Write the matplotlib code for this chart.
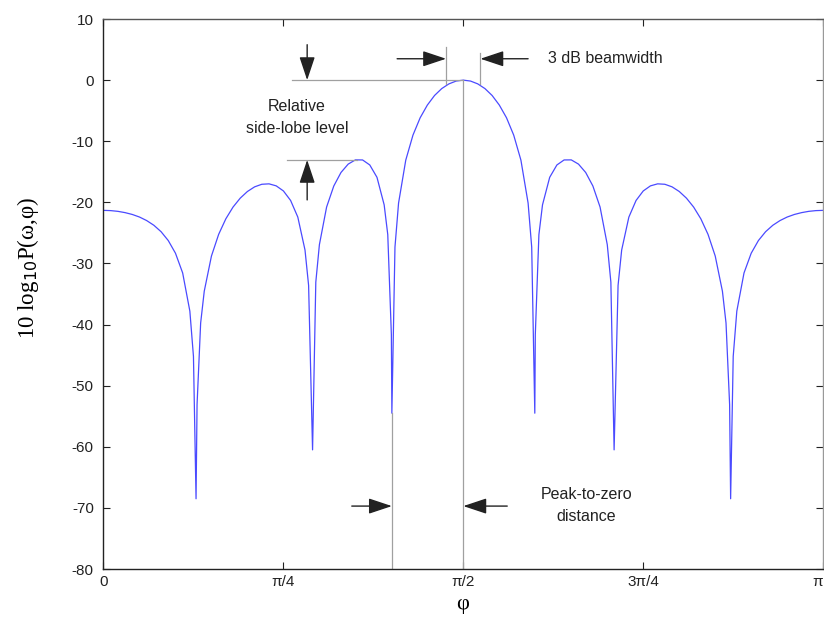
import matplotlib
matplotlib.use("Agg")
import matplotlib.pyplot as plt
import numpy as np

# beam pattern samples, phi in units of pi, level in dB
phi_left = [0.00, 0.01, 0.02, 0.03, 0.04, 0.05, 0.06, 0.07, 0.08, 0.09,
            0.10, 0.11, 0.12, 0.125, 0.1286, 0.13, 0.135, 0.14, 0.15, 0.16,
            0.17, 0.18, 0.19, 0.20, 0.21, 0.22, 0.23, 0.24, 0.25, 0.26,
            0.27, 0.28, 0.285, 0.2905, 0.295, 0.30, 0.31, 0.32, 0.33, 0.34,
            0.35, 0.36, 0.37, 0.38, 0.39, 0.395, 0.40, 0.4007, 0.405, 0.41,
            0.42, 0.43, 0.44, 0.45, 0.46, 0.47, 0.48, 0.49, 0.50]
db_left = [-21.31, -21.35, -21.47, -21.68, -21.98, -22.40, -22.98, -23.75, -24.80, -26.25,
           -28.32, -31.55, -37.80, -45.20, -68.5, -53.09, -39.74, -34.54, -28.78, -25.24,
           -22.69, -20.77, -19.31, -18.22, -17.46, -17.04, -16.97, -17.30, -18.13, -19.69,
           -22.41, -27.80, -33.59, -60.5, -33.06, -26.92, -20.77, -17.32, -15.11, -13.74,
           -13.05, -13.06, -13.88, -15.90, -20.41, -25.28, -41.65, -54.5, -27.33, -20.12,
           -13.09, -9.00, -6.16, -4.08, -2.51, -1.38, -0.61, -0.15, 0.00]

phi_right = [0.51, 0.52, 0.53, 0.54, 0.55, 0.56, 0.57, 0.58, 0.59, 0.595,
             0.5993, 0.60, 0.605, 0.61, 0.62, 0.63, 0.64, 0.65, 0.66, 0.67,
             0.68, 0.69, 0.70, 0.705, 0.7095, 0.715, 0.72, 0.73, 0.74, 0.75,
             0.76, 0.77, 0.78, 0.79, 0.80, 0.81, 0.82, 0.83, 0.84, 0.85,
             0.86, 0.865, 0.87, 0.8714, 0.875, 0.88, 0.89, 0.90, 0.91, 0.92,
             0.93, 0.94, 0.95, 0.96, 0.97, 0.98, 0.99, 1.00]
db_right = [-0.15, -0.61, -1.38, -2.51, -4.08, -6.16, -9.00, -13.09, -20.12, -27.33,
            -54.5, -41.65, -25.28, -20.41, -15.90, -13.88, -13.06, -13.05, -13.74, -15.11,
            -17.32, -20.77, -26.92, -33.06, -60.5, -33.59, -27.80, -22.41, -19.69, -18.13,
            -17.30, -16.97, -17.04, -17.46, -18.22, -19.31, -20.77, -22.69, -25.24, -28.78,
            -34.54, -39.74, -53.09, -68.5, -45.20, -37.80, -31.55, -28.32, -26.25, -24.80,
            -23.75, -22.98, -22.40, -21.98, -21.68, -21.47, -21.35, -21.31]

tick_pos = [0, 0.25, 0.5, 0.75, 1.0]
tick_lab = ['0', 'π/4', 'π/2', '3π/4', 'π']

phi = np.pi * np.array(phi_left + phi_right)
level = np.array(db_left + db_right)

sidelobe_db = -13.05
null_phi = 0.4007
null_db = -54.5

plt.rcParams['font.family'] = ['Liberation Sans', 'DejaVu Sans']
plt.rcParams['axes.unicode_minus'] = False

fig = plt.figure(figsize=(8.24, 6.28), dpi=100)
ax = fig.add_axes([0.1256, 0.0939, 0.8734, 0.8758])

ax.plot(phi, level, color='#4a4aff', lw=0.9)

P = np.pi
gray = '#a0a0a0'
# reference lines
ax.plot([0.262 * P, 0.5 * P], [0, 0], color=gray, lw=0.9)
ax.plot([0.255 * P, 0.352 * P], [sidelobe_db, sidelobe_db], color=gray, lw=0.9)
ax.plot([0.5 * P, 0.5 * P], [0, -80], color=gray, lw=0.9)
ax.plot([null_phi * P, null_phi * P], [null_db, -80], color=gray, lw=0.9)
ax.plot([0.476 * P, 0.476 * P], [5.45, -0.7], color=gray, lw=0.9)
ax.plot([0.5237 * P, 0.5237 * P], [4.5, -0.7], color=gray, lw=0.9)

arrow = dict(arrowstyle='-|>,head_length=0.9,head_width=0.3', color='#222222',
             lw=1.0, shrinkA=0, shrinkB=0, mutation_scale=16)


def arr(x0, y0, x1, y1):
    ax.annotate('', xy=(x1 * P, y1), xytext=(x0 * P, y0), arrowprops=arrow)


arr(0.283, 5.8, 0.283, 0.0)
arr(0.283, -19.6, 0.283, sidelobe_db)
arr(0.408, 3.5, 0.476, 3.5)
arr(0.590, 3.5, 0.5237, 3.5)
arr(0.345, -69.7, null_phi, -69.7)
arr(0.561, -69.7, 0.5, -69.7)

ax.text(0.269 * P, -6.1, 'Relative\nside-lobe level', ha='center', va='center',
        fontsize=11.5, linespacing=1.55, color='#222222')
ax.text(0.618 * P, 3.5, '3 dB beamwidth', ha='left', va='center',
        fontsize=11.5, color='#222222')
ax.text(0.671 * P, -69.6, 'Peak-to-zero\ndistance', ha='center', va='center',
        fontsize=11.5, linespacing=1.55, color='#222222')

ax.set_xlim(0, np.pi)
ax.set_ylim(-80, 10)
ax.set_xticks([t * P for t in tick_pos])
ax.set_xticklabels(tick_lab)
ax.set_yticks(np.arange(-80, 11, 10))
ax.tick_params(direction='in', top=True, right=True, length=5, width=0.8,
               labelsize=11, colors='#222222')
ax.tick_params(axis='y', pad=7)
ax.tick_params(axis='x', pad=4)
# keep the last label inside the figure edge
ax.get_xticklabels()[-1].set_horizontalalignment('right')
for s in ax.spines.values():
    s.set_linewidth(1.0)
    s.set_color('#222222')
ax.spines['top'].set_color('#555555')
ax.spines['right'].set_color('#999999')

fig.text(0.5619, 0.037, 'φ', ha='center', va='center', fontsize=16,
         family=['Liberation Serif', 'DejaVu Serif'])
fig.text(0.034, 0.573, r'10 log$_{10}$P(ω,φ)', rotation=90, ha='center', va='center',
         fontsize=16.5, family=['Liberation Serif', 'DejaVu Serif'])

fig.savefig('out.png', dpi=100)
